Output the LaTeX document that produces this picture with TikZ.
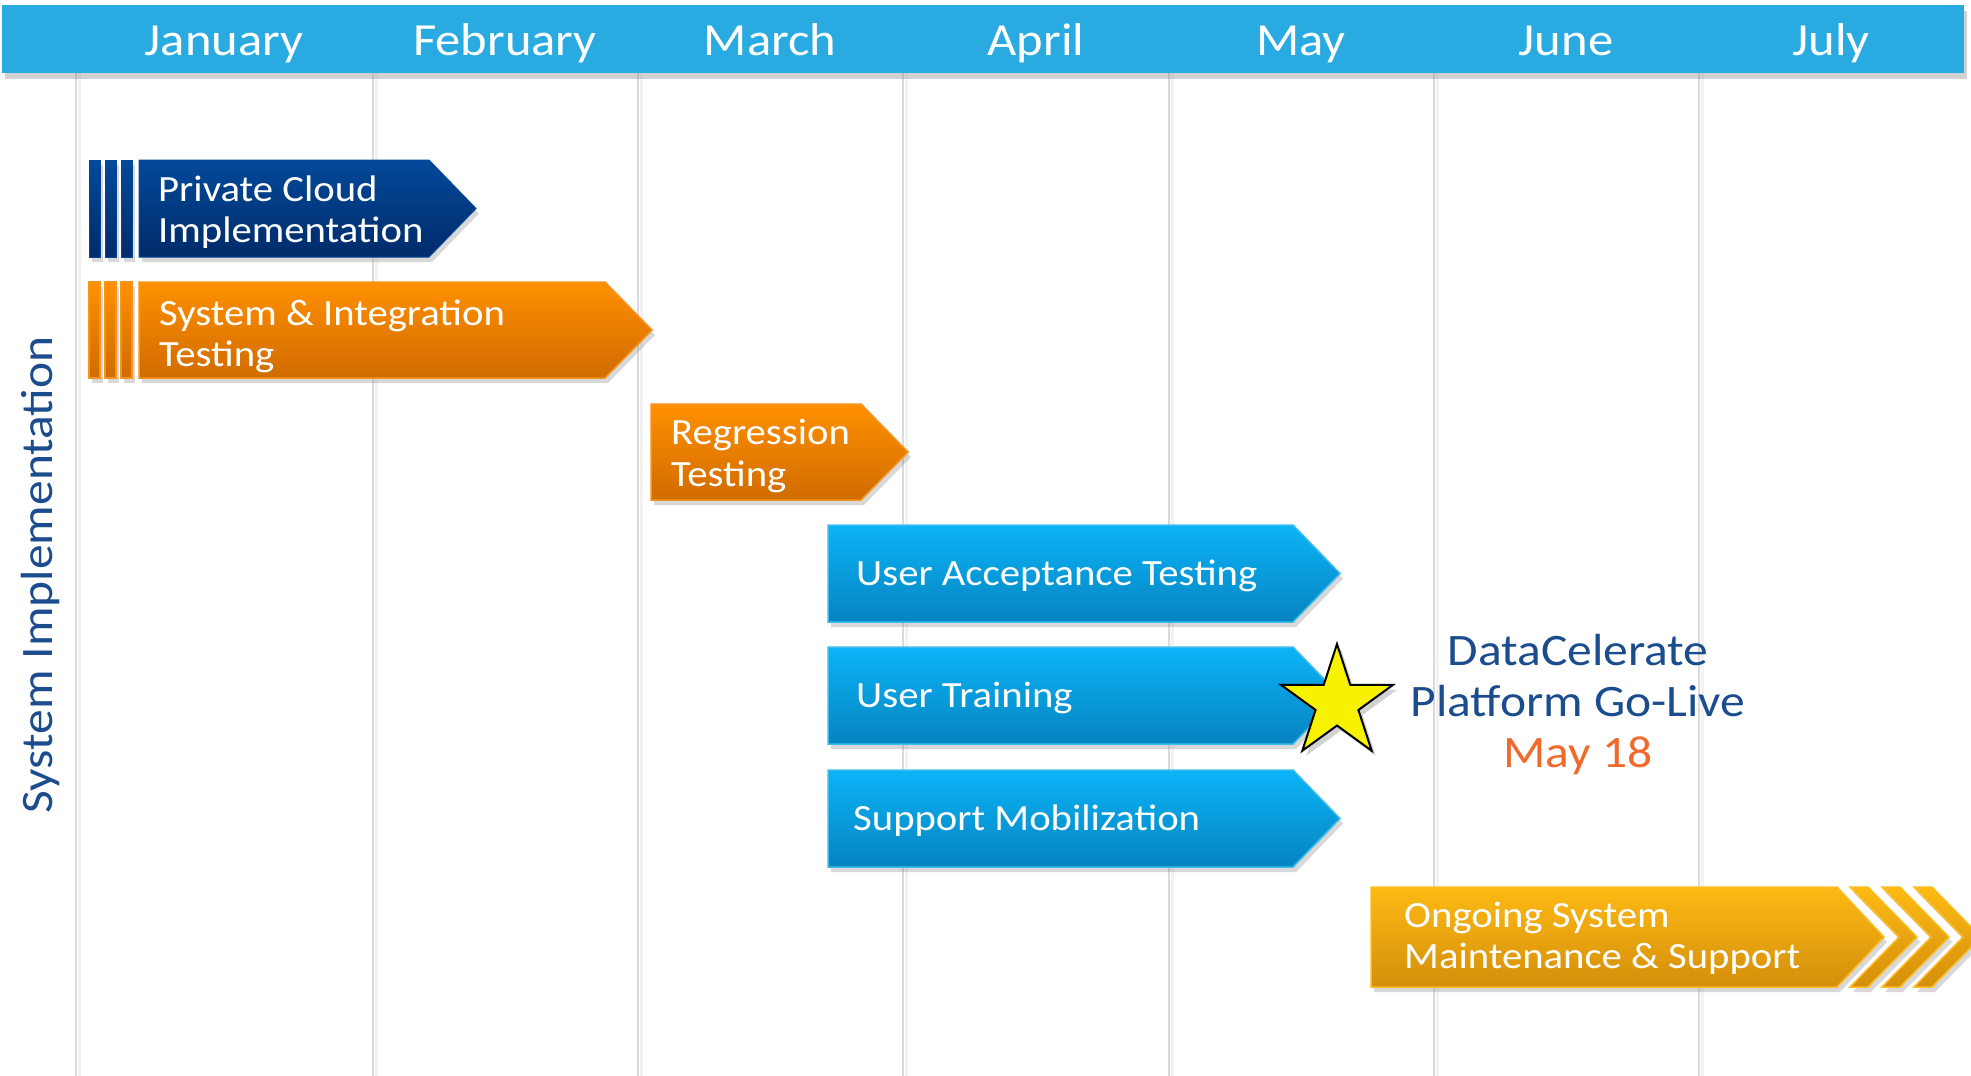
\documentclass[tikz,border=0pt]{standalone}
\usepackage{fontspec}
\setmainfont[FakeStretch=1.1]{Carlito}
\usetikzlibrary{shapes.geometric,shadows}
\definecolor{hdr}{HTML}{29AAE1}
\definecolor{gridc}{HTML}{DADADA}
\definecolor{dbtop}{HTML}{03499A}
\definecolor{dbbot}{HTML}{002B69}
\definecolor{ortop}{HTML}{FF9000}
\definecolor{orbot}{HTML}{D06B00}
\definecolor{orline}{HTML}{F7941D}
\definecolor{bltop}{HTML}{0BB4F7}
\definecolor{blbot}{HTML}{0683C0}
\definecolor{blline}{HTML}{3DBDEB}
\definecolor{gdtop}{HTML}{FDBA14}
\definecolor{gdbot}{HTML}{D48E0B}
\definecolor{gdline}{HTML}{FBBC25}
\definecolor{lblblue}{HTML}{1A4C8E}
\definecolor{mayor}{HTML}{F26A2B}
\definecolor{stary}{HTML}{F7F200}
\newcommand\gbox[5]{\path[#5] (#1,#3) -- (#2,#3) -- ({#2+47},{(#3+#4)/2}) -- (#2,#4) -- (#1,#4) -- cycle;}
\newcommand\stripes[3]{%
  \path[#3] (89,#1) rectangle (100,#2);
  \path[#3] (105,#1) rectangle (116,#2);
  \path[#3] (121,#1) rectangle (132,#2);}
\newcommand\chev[1]{\path[goldbox] (#1,887) -- ({#1+18},887) -- ({#1+67},937) -- ({#1+18},987) -- (#1,987) -- ({#1+49},937) -- cycle;}
\begin{document}
\begin{tikzpicture}[x=1pt,y=-1pt,
  shad/.style={drop shadow={opacity=0.3,shadow xshift=3pt,shadow yshift=-5pt}},
  darkbox/.style={shad,top color=dbtop,bottom color=dbbot,draw=dbtop,line width=1pt},
  orangebox/.style={shad,top color=ortop,bottom color=orbot,draw=orline,line width=1.5pt},
  bluebox/.style={shad,top color=bltop,bottom color=blbot,draw=blline,line width=1.5pt},
  goldbox/.style={shad,top color=gdtop,bottom color=gdbot,draw=gdline,line width=1.5pt},
  month/.style={anchor=base,text=white,font=\fontsize{46}{50}\selectfont,inner sep=0pt},
  boxtext/.style={anchor=base west,text=white,font=\fontsize{37}{41}\selectfont,inner sep=0pt},
  gridline/.style={draw=gridc,line width=2pt},
  gridshade/.style={draw=black!5,line width=3pt}]
\useasboundingbox[fill=white] (0,0) rectangle (1971,1076);
% grid
\foreach \gx [count=\i] in {76,373,638,903,1169,1434,1699}{
  \coordinate (gt\i) at (\gx,73);
  \coordinate (gb\i) at (\gx,1076);
  \draw[gridshade] ([xshift=3pt]gt\i) -- ([xshift=3pt]gb\i);
  \draw[gridline] (gt\i) -- (gb\i);
}
% header
\path[fill=hdr,drop shadow={opacity=0.35,shadow xshift=3pt,shadow yshift=-6pt}] (2,5) rectangle (1964,73);
\node[month] (jan) at (224,55) {January};
\node[month] (feb) at (505,55) {February};
\node[month] (mar) at (770,55) {March};
\node[month] (apr) at (1036,55) {April};
\node[month] (may) at (1301,55) {May};
\node[month] (jun) at (1566,55) {June};
\node[month] (jul) at (1831,55) {July};
% vertical label
\node[rotate=90,anchor=base,text=lblblue,font=\fontsize{45}{50}\selectfont,inner sep=0pt] (sysimpl) at (52,575) {System Implementation};
% private cloud
\stripes{160}{257}{darkbox}
\gbox{139}{429}{160}{257}{darkbox}
\node[boxtext] (pc) at (158,201) {\vtop{\baselineskip=41pt\hbox{Private Cloud}\hbox{Implementation}}};
% system & integration
\stripes{282}{378}{orangebox}
\gbox{139}{605}{282}{378}{orangebox}
\node[boxtext] (sit) at (159,325) {\vtop{\baselineskip=41pt\hbox{System \& Integration}\hbox{Testing}}};
% regression
\gbox{651}{861}{404}{500}{orangebox}
\node[boxtext] (reg) at (671,444) {\vtop{\baselineskip=42pt\hbox{Regression}\hbox{Testing}}};
% blue boxes
\gbox{828}{1293}{525}{622}{bluebox}
\node[boxtext] (uat) at (856,585) {User Acceptance Testing};
\gbox{828}{1293}{647}{744}{bluebox}
\node[boxtext] (ut) at (856,707) {User Training};
\gbox{828}{1293}{770}{867}{bluebox}
\node[boxtext] (sm) at (853,830) {Support Mobilization};
% ongoing
\chev{1914}
\chev{1882}
\chev{1850}
\gbox{1371}{1837}{887}{987}{goldbox}
\node[boxtext] (ong) at (1404,927) {\vtop{\baselineskip=41pt\hbox{Ongoing System}\hbox{Maintenance \& Support}}};
% star
\node[star,star points=5,star point ratio=2.618,minimum size=118pt,inner sep=0pt,fill=stary,draw=black,line width=2pt,drop shadow={opacity=0.35,shadow xshift=4pt,shadow yshift=-5pt}] (star) at (1337,703) {};
% go-live text
\node[anchor=base,inner sep=0pt,font=\fontsize{45}{51}\selectfont] (golive) at (1578,665) {\vtop{\baselineskip=51pt\hbox to 360pt{\hss\color{lblblue}DataCelerate\hss}\hbox to 360pt{\hss\color{lblblue}Platform Go-Live\hss}\hbox to 360pt{\hss\color{mayor}May 18\hss}}};
\end{tikzpicture}
\end{document}
